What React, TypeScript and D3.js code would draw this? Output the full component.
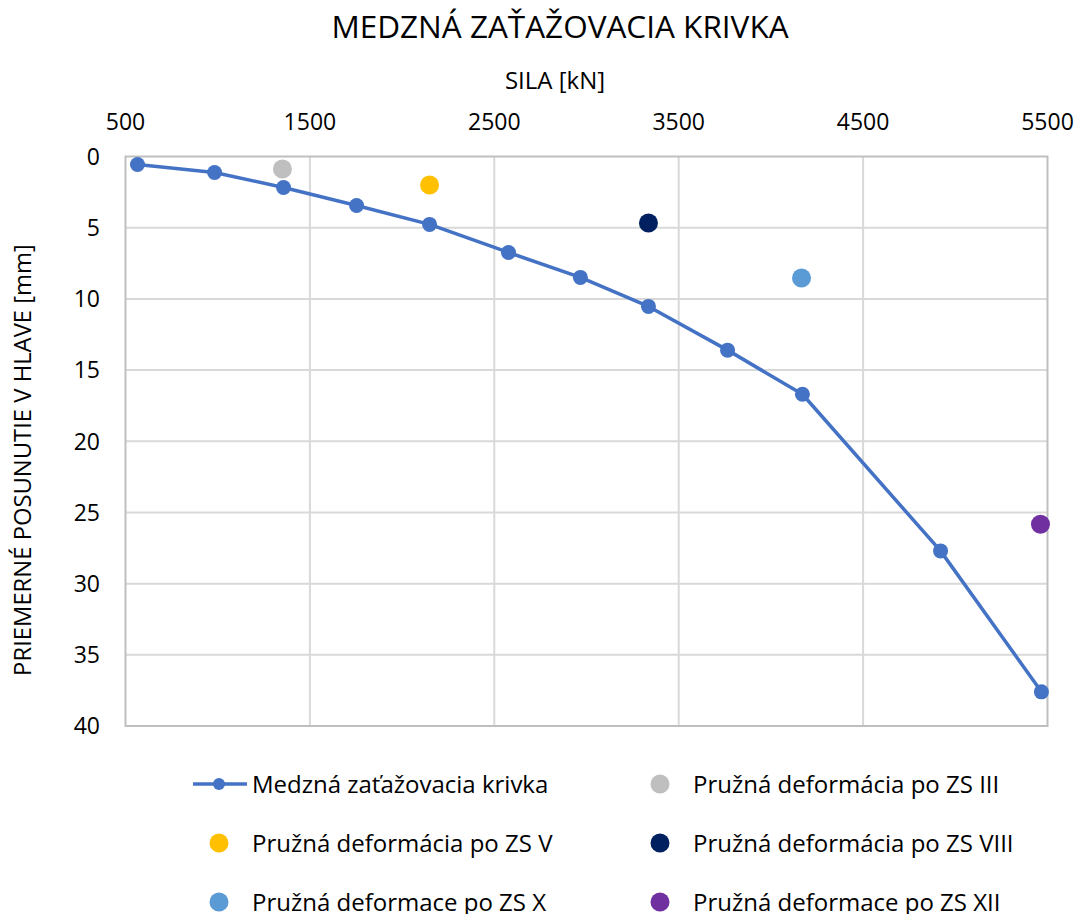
import React from "react";
import * as d3 from "d3";

const curveLoad = [565, 983, 1357, 1753, 2149, 2577, 2967, 3336, 3765, 4171, 4920, 5467];
const curveDisp = [0.56, 1.12, 2.18, 3.44, 4.77, 6.74, 8.49, 10.53, 13.6, 16.7, 27.7, 37.6];

const pointNames = [
  "Pružná deformácia po ZS III",
  "Pružná deformácia po ZS V",
  "Pružná deformácia po ZS VIII",
  "Pružná deformace po ZS X",
  "Pružná deformace po ZS XII",
];
const pointLoad = [1351, 2149, 3336, 4166, 5462];
const pointDisp = [0.88, 2.0, 4.67, 8.53, 25.83];
const pointColors = ["#BFBFBF", "#FFC000", "#002060", "#5B9BD5", "#7030A0"];

const xTicks = [500, 1500, 2500, 3500, 4500, 5500];
const yTicks = [0, 5, 10, 15, 20, 25, 30, 35, 40];

const title = "MEDZNÁ ZAŤAŽOVACIA KRIVKA";
const xTitle = "SILA [kN]";
const yTitle = "PRIEMERNÉ POSUNUTIE V HLAVE [mm]";
const curveName = "Medzná zaťažovacia krivka";
const curveColor = "#4472C4";

const W = 1083;
const H = 914;
const left = 125.5;
const right = 1047.5;
const top = 156.5;
const bottom = 726;
const font = "'Open Sans', 'Noto Sans', sans-serif";

export default function App() {
  const x = d3.scaleLinear().domain([500, 5500]).range([left, right]);
  const y = d3.scaleLinear().domain([0, 40]).range([top, bottom]);
  const line = d3
    .line<number>()
    .x((_, i) => x(curveLoad[i]))
    .y((d) => y(d));

  const legendItems = [
    { name: curveName, color: curveColor, isLine: true },
    ...pointNames.map((n, i) => ({ name: n, color: pointColors[i], isLine: false })),
  ];
  const colX = [219, 660];
  const rowY = [784, 843, 902];

  return (
    <svg
      width={W}
      height={H}
      style={{ position: "absolute", left: 0, top: 0, background: "#fff" }}
      fontFamily={font}
    >
      <rect x={0} y={0} width={W} height={H} fill="#fff" />
      <text x={560} y={38} textAnchor="middle" fontSize={31.5} fill="#000">
        {title}
      </text>
      <text x={555} y={89} textAnchor="middle" fontSize={24} fill="#000">
        {xTitle}
      </text>
      <text
        transform={`translate(31,460) rotate(-90)`}
        textAnchor="middle"
        fontSize={23.8}
        fill="#000"
      >
        {yTitle}
      </text>

      {xTicks.slice(1, -1).map((t) => (
        <line key={"gx" + t} x1={x(t)} x2={x(t)} y1={top} y2={bottom} stroke="#D9D9D9" strokeWidth={2} />
      ))}
      {yTicks.slice(1, -1).map((t) => (
        <line key={"gy" + t} x1={left} x2={right} y1={y(t)} y2={y(t)} stroke="#D9D9D9" strokeWidth={2} />
      ))}
      <rect x={left} y={top} width={right - left} height={bottom - top} fill="none" stroke="#BFBFBF" strokeWidth={2} />

      {xTicks.map((t) => (
        <text key={"tx" + t} x={x(t)} y={130} textAnchor="middle" fontSize={23} fill="#000">
          {t}
        </text>
      ))}
      {yTicks.map((t) => (
        <text key={"ty" + t} x={100} y={y(t)} dy="0.36em" textAnchor="end" fontSize={23} fill="#000">
          {t}
        </text>
      ))}

      <path d={line(curveDisp) || ""} fill="none" stroke={curveColor} strokeWidth={3.5} strokeLinejoin="round" />
      {curveDisp.map((d, i) => (
        <circle key={"c" + i} cx={x(curveLoad[i])} cy={y(d)} r={7.5} fill={curveColor} />
      ))}
      {pointDisp.map((d, i) => (
        <circle key={"p" + i} cx={x(pointLoad[i])} cy={y(d)} r={9.5} fill={pointColors[i]} />
      ))}

      {legendItems.map((it, i) => {
        const cx = colX[i % 2];
        const cy = rowY[Math.floor(i / 2)];
        return (
          <g key={"l" + i}>
            {it.isLine ? (
              <>
                <line x1={cx - 26} x2={cx + 28} y1={cy} y2={cy} stroke={it.color} strokeWidth={3.5} />
                <circle cx={cx} cy={cy} r={6} fill={it.color} />
              </>
            ) : (
              <circle cx={cx} cy={cy} r={9.5} fill={it.color} />
            )}
            <text x={cx + 33} y={cy} dy="0.36em" fontSize={24} fill="#000">
              {it.name}
            </text>
          </g>
        );
      })}
    </svg>
  );
}
